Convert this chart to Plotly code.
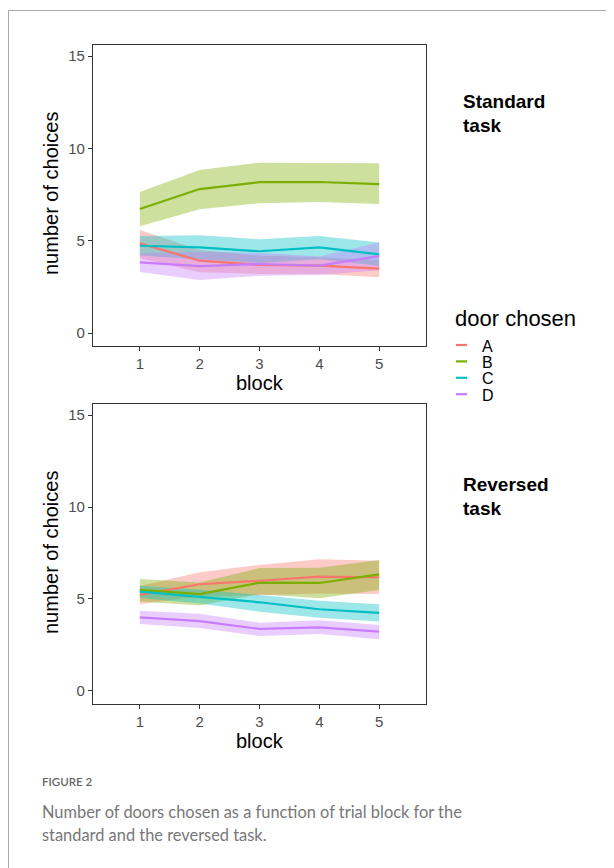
import plotly.graph_objects as go

# Page is 614x868 but the HTML body has an 8px margin, so the figure is offset by 8px.
OFF = 8
W, H = 614 - OFF, 868 - OFF

blocks = [1, 2, 3, 4, 5]
doors = ["A", "B", "C", "D"]
colors = {"A": "#F8766D", "B": "#7CAE00", "C": "#00BFC4", "D": "#C77CFF"}
fills = {"A": "rgba(248,118,109,0.38)", "B": "rgba(124,174,0,0.38)",
         "C": "rgba(0,191,196,0.38)", "D": "rgba(199,124,255,0.38)"}

# Standard task
std_A_mean = [4.86, 3.92, 3.69, 3.65, 3.49]
std_A_low = [4.05, 3.30, 3.20, 3.20, 3.02]
std_A_up = [5.58, 4.50, 4.20, 4.10, 3.95]
std_B_mean = [6.72, 7.80, 8.17, 8.18, 8.07]
std_B_low = [5.78, 6.70, 7.03, 7.10, 6.99]
std_B_up = [7.64, 8.83, 9.23, 9.23, 9.20]
std_C_mean = [4.73, 4.64, 4.43, 4.64, 4.26]
std_C_low = [4.20, 4.00, 3.80, 4.00, 3.65]
std_C_up = [5.26, 5.30, 5.08, 5.26, 4.90]
std_D_mean = [3.83, 3.63, 3.74, 3.65, 4.17]
std_D_low = [3.31, 2.87, 3.10, 3.14, 3.40]
std_D_up = [4.32, 4.40, 4.35, 4.15, 4.90]

# Reversed task
rev_A_mean = [5.22, 5.80, 5.99, 6.21, 6.18]
rev_A_low = [4.71, 5.15, 5.20, 5.30, 5.27]
rev_A_up = [5.70, 6.45, 6.85, 7.16, 7.08]
rev_B_mean = [5.49, 5.26, 5.89, 5.87, 6.34]
rev_B_low = [4.86, 4.65, 5.26, 5.04, 5.49]
rev_B_up = [6.09, 5.90, 6.68, 6.70, 7.12]
rev_C_mean = [5.40, 5.13, 4.82, 4.44, 4.24]
rev_C_low = [5.05, 4.75, 4.31, 3.98, 3.77]
rev_C_up = [5.72, 5.50, 5.22, 4.90, 4.71]
rev_D_mean = [4.00, 3.80, 3.37, 3.46, 3.22]
rev_D_low = [3.64, 3.42, 2.99, 3.10, 2.81]
rev_D_up = [4.36, 4.20, 3.71, 3.85, 3.59]

y_ticks = [0, 5, 10, 15]
x_title = "block"
y_title = "number of choices"
legend_title = "door chosen"

panels = {
    "std": {"A": (std_A_mean, std_A_low, std_A_up), "B": (std_B_mean, std_B_low, std_B_up),
            "C": (std_C_mean, std_C_low, std_C_up), "D": (std_D_mean, std_D_low, std_D_up)},
    "rev": {"A": (rev_A_mean, rev_A_low, rev_A_up), "B": (rev_B_mean, rev_B_low, rev_B_up),
            "C": (rev_C_mean, rev_C_low, rev_C_up), "D": (rev_D_mean, rev_D_low, rev_D_up)},
}

def px_x(p):
    return (p - OFF) / W

def px_y(p):
    return 1 - (p - OFF) / H

fig = go.Figure()
FONT = "Liberation Sans, Arial, sans-serif"

for key, xa, ya in [("std", "x", "y"), ("rev", "x2", "y2")]:
    data = panels[key]
    for d in doors:
        m, lo, up = data[d]
        fig.add_trace(go.Scatter(x=blocks + blocks[::-1], y=up + lo[::-1], fill="toself",
                                 fillcolor=fills[d], line=dict(width=0), mode="lines",
                                 hoverinfo="skip", showlegend=False, xaxis=xa, yaxis=ya))
    for d in doors:
        m, lo, up = data[d]
        fig.add_trace(go.Scatter(x=blocks, y=m, mode="lines", name=d,
                                 line=dict(color=colors[d], width=2.2),
                                 showlegend=False, xaxis=xa, yaxis=ya))

x_dom = [px_x(93), px_x(426)]
axis_common = dict(showgrid=False, zeroline=False, showline=True, mirror=True,
                   linecolor="#333333", linewidth=1.2, ticks="outside", ticklen=4,
                   tickcolor="#333333", tickfont=dict(family=FONT, size=15, color="#4D4D4D"),
                   automargin=False)
fig.update_layout(
    xaxis=dict(domain=x_dom, range=[0.217, 5.783], tickvals=blocks, anchor="y", **axis_common),
    yaxis=dict(domain=[px_y(346), px_y(45)], range=[-0.70, 15.6], tickvals=y_ticks, anchor="x", **axis_common),
    xaxis2=dict(domain=x_dom, range=[0.217, 5.783], tickvals=blocks, anchor="y2", **axis_common),
    yaxis2=dict(domain=[px_y(704), px_y(404)], range=[-0.71, 15.6], tickvals=y_ticks, anchor="x2", **axis_common),
)

ann = []
def text(x, y, s, size, color="black", xanchor="left", yanchor="middle", family=FONT, angle=0,
         bold=False, weight=None, height=None):
    f = dict(family=family, size=size, color=color)
    if weight is not None:
        f["weight"] = weight
    a = dict(x=px_x(x), y=px_y(y), xref="paper", yref="paper", text=("<b>%s</b>" % s) if bold else s,
             showarrow=False, xanchor=xanchor, yanchor=yanchor, textangle=angle, font=f)
    if height is not None:
        a["height"] = height
        a["borderpad"] = 0
    ann.append(a)

# axis titles
text(259.5, 383, x_title, 20, xanchor="center")
text(259.5, 741, x_title, 20, xanchor="center")
text(51, 194, y_title, 20, xanchor="center", angle=-90)
text(51, 553, y_title, 20, xanchor="center", angle=-90)

# panel labels
text(461, 101, "Standard", 19, bold=True)
text(461, 125, "task", 19, bold=True)
text(461, 484, "Reversed", 19, bold=True)
text(461, 508, "task", 19, bold=True)

# legend
text(453, 318, legend_title, 22)
shapes = []
for i, d in enumerate(doors):
    yy = 345 + i * 16.4
    shapes.append(dict(type="line", xref="paper", yref="paper", x0=px_x(456), x1=px_x(467),
                       y0=px_y(yy), y1=px_y(yy), line=dict(color=colors[d], width=2.2)))
    text(481, yy + 1, d, 16, height=15)

# caption
CAP = "Lato, Open Sans, sans-serif"
text(40, 781, "FIGURE 2", 11.5, color="#666666", family=CAP, weight=600)
text(40, 811, "Number of doors chosen as a function of trial block for the", 16.4, color="#777777", family=CAP)
text(40, 834, "standard and the reversed task.", 16.4, color="#777777", family=CAP)

# page frame
shapes.append(dict(type="line", xref="paper", yref="paper", x0=0.0, x1=1.0,
                   y0=px_y(10.5), y1=px_y(10.5), line=dict(color="#AAAAAA", width=1)))
shapes.append(dict(type="line", xref="paper", yref="paper", x0=px_x(8.5), x1=px_x(8.5),
                   y0=px_y(10), y1=0.0, line=dict(color="#AAAAAA", width=1)))

fig.update_layout(width=W, height=H, margin=dict(l=0, r=0, t=0, b=0),
                  paper_bgcolor="white", plot_bgcolor="white", showlegend=False,
                  annotations=ann, shapes=shapes)

fig.write_html("out.html")
